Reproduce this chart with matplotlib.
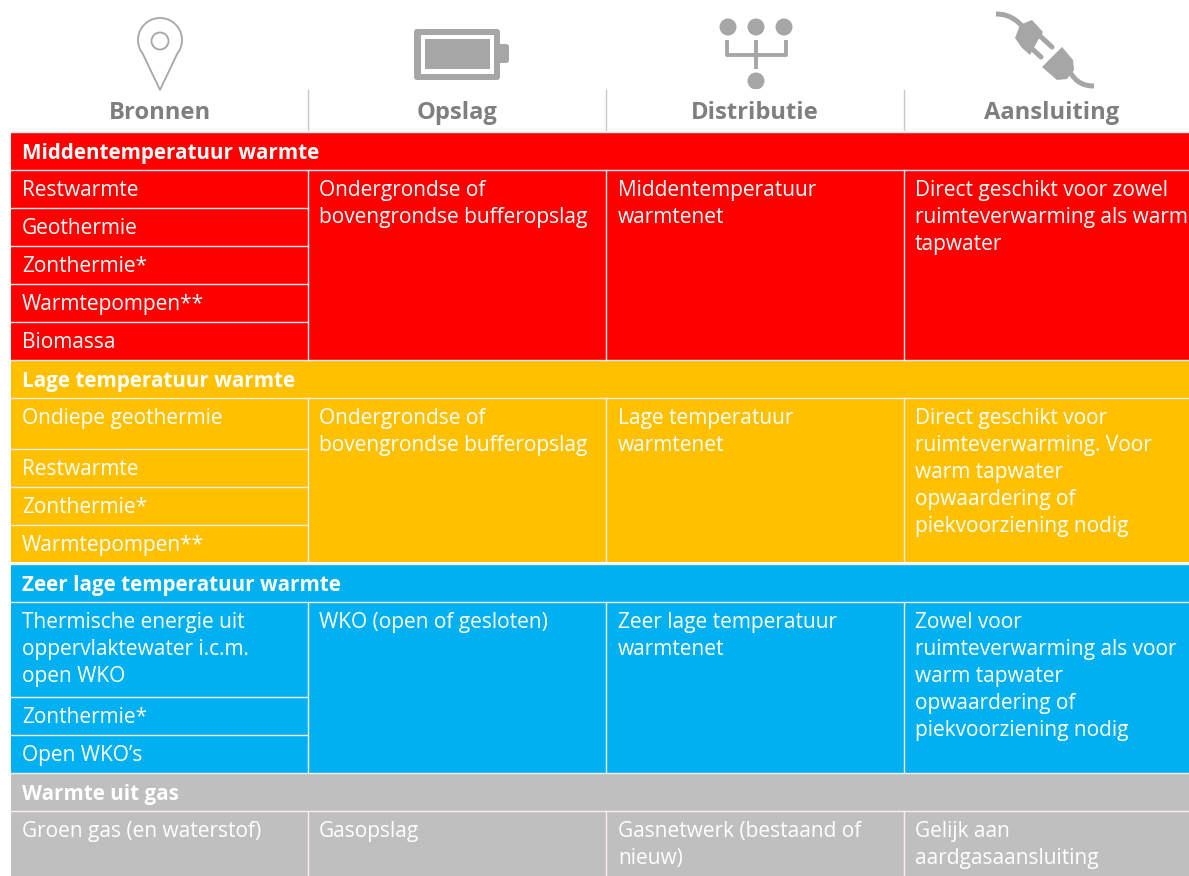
#!/usr/bin/env python3
# -*- coding: utf-8 -*-
"""Warmte table: sources, storage, distribution and connection per temperature level."""

import numpy as np
import matplotlib
matplotlib.use("Agg")
import matplotlib.pyplot as plt
from matplotlib.patches import Circle, Ellipse, FancyBboxPatch, PathPatch, Polygon, Rectangle
from matplotlib.path import Path

W, H = 1189, 876
FONT = ["Open Sans", "DejaVu Sans"]

columns = ["Bronnen", "Opslag", "Distributie", "Aansluiting"]
column_centers = [160, 457, 755, 1052]
column_edges = [11, 308, 606, 904, 1189]

section_names = ["Middentemperatuur warmte", "Lage temperatuur warmte",
                 "Zeer lage temperatuur warmte", "Warmte uit gas"]
section_colors = ["#ff0000", "#ffc000", "#00b0f0", "#bfbfbf"]
section_tops = [132, 360, 564, 773]
section_bottoms = [360, 562, 773, 876]

sources = [
    ["Restwarmte", "Geothermie", "Zonthermie*", "Warmtepompen**", "Biomassa"],
    ["Ondiepe geothermie", "Restwarmte", "Zonthermie*", "Warmtepompen**"],
    ["Thermische energie uit\noppervlaktewater i.c.m.\nopen WKO", "Zonthermie*", "Open WKO\u2019s"],
    ["Groen gas (en waterstof)"],
]
source_row_bottoms = [
    [208, 246, 284, 322, 360],
    [449, 487, 525, 562],
    [697, 735, 773],
    [876],
]
storage = ["Ondergrondse of\nbovengrondse bufferopslag",
           "Ondergrondse of\nbovengrondse bufferopslag",
           "WKO (open of gesloten)",
           "Gasopslag"]
distribution = ["Middentemperatuur\nwarmtenet",
                "Lage temperatuur\nwarmtenet",
                "Zeer lage temperatuur\nwarmtenet",
                "Gasnetwerk (bestaand of\nnieuw)"]
connection = ["Direct geschikt voor zowel\nruimteverwarming als warm\ntapwater",
              "Direct geschikt voor\nruimteverwarming. Voor\nwarm tapwater\nopwaardering of\npiekvoorziening nodig",
              "Zowel voor\nruimteverwarming als voor\nwarm tapwater\nopwaardering of\npiekvoorziening nodig",
              "Gelijk aan\naardgasaansluiting"]

HEAD_H = 38
GREY = "#a6a6a6"
TEXT_GREY = "#7f7f7f"
LINE = "#f8eeee"


def cell_text(ax, x, y, s, color="white", size=15, weight="normal"):
    ax.text(x, y, s, color=color, fontsize=size, fontweight=weight, family=FONT,
            ha="left", va="top", linespacing=1.37)


def draw_icons(ax):
    # map pin
    t = np.linspace(np.radians(-38), np.radians(218), 60)
    pts = [(160 + 22 * np.cos(a), 40 - 22 * np.sin(a)) for a in t]
    pts = [(160, 90)] + pts
    ax.add_patch(Polygon(pts, closed=True, fc="none", ec=GREY, lw=1.3))
    ax.add_patch(Circle((160, 41), 8.5, fc="none", ec=GREY, lw=1.3))

    # battery
    ax.add_patch(FancyBboxPatch((414, 29), 86, 51, boxstyle="round,pad=0,rounding_size=3",
                                fc=GREY, ec="none"))
    ax.add_patch(Rectangle((421, 35), 73, 39, fc="white", ec="none"))
    ax.add_patch(Rectangle((425, 39), 65, 30, fc=GREY, ec="none"))
    ax.add_patch(FancyBboxPatch((498, 44), 11, 19, boxstyle="round,pad=0,rounding_size=3",
                                fc=GREY, ec="none"))

    # distribution tree
    for cx in [728, 756, 784]:
        ax.add_patch(Ellipse((cx, 27), 17, 17, fc=GREY, ec="none"))
    ax.add_patch(Ellipse((756, 81), 17, 17, fc=GREY, ec="none"))
    ax.add_patch(Rectangle((740, 89), 32, 3, fc="white", ec="none"))
    ax.plot([727, 727, 786, 786], [40, 55, 55, 40], color=GREY, lw=2.8, solid_capstyle="butt")
    ax.plot([756, 756], [40, 69], color=GREY, lw=2.8, solid_capstyle="butt")

    # plug and socket
    cord_top = Path([(996, 14), (1008, 14), (1016, 19), (1024, 28)],
                    [Path.MOVETO, Path.CURVE4, Path.CURVE4, Path.CURVE4])
    cord_bottom = Path([(1070, 72), (1076, 82), (1083, 86), (1094, 86)],
                       [Path.MOVETO, Path.CURVE4, Path.CURVE4, Path.CURVE4])
    ax.add_patch(PathPatch(cord_top, fc="none", ec=GREY, lw=3.6, capstyle="butt"))
    ax.add_patch(PathPatch(cord_bottom, fc="none", ec=GREY, lw=3.6, capstyle="butt"))
    ax.add_patch(Polygon([(1015, 38), (1020, 25), (1032, 20), (1043, 32), (1037, 42), (1030, 55), (1022, 48)],
                         fc=GREY, ec="none"))
    ax.plot([1040, 1052], [36, 47], color=GREY, lw=3.6, solid_capstyle="round")
    ax.plot([1030, 1041], [47, 57], color=GREY, lw=3.6, solid_capstyle="round")
    ax.add_patch(Polygon([(1062, 47), (1073, 60), (1074, 70), (1067, 79), (1057, 80), (1042, 67)],
                         fc=GREY, ec="none"))


def main():
    fig = plt.figure(figsize=(W / 100, H / 100), dpi=100)
    ax = fig.add_axes([0, 0, 1, 1])
    ax.set_xlim(0, W)
    ax.set_ylim(H, 0)
    ax.axis("off")

    draw_icons(ax)

    for name, cx in zip(columns, column_centers):
        ax.text(cx, 113, name, color=TEXT_GREY, fontsize=17.1, fontweight="bold", family=FONT,
                ha="center", va="center")
    for x in column_edges[1:4]:
        ax.plot([x, x], [90, 130], color="#c8c8c8", lw=1.0)

    for i, name in enumerate(section_names):
        top, bottom = section_tops[i], section_bottoms[i]
        color = section_colors[i]
        ax.add_patch(Rectangle((11, top), W - 11, bottom - top, fc=color, ec="none"))
        cell_text(ax, 22, top + 11, name, size=14.9, weight="bold")

        body = top + HEAD_H
        ax.plot([11, W], [body, body], color=LINE, lw=1.0)
        ax.plot([11, W], [top, top], color=LINE, lw=1.0)
        for x in column_edges[1:4]:
            ax.plot([x, x], [body, bottom], color=LINE, lw=1.0)

        row_top = body
        for label, row_bottom in zip(sources[i], source_row_bottoms[i]):
            cell_text(ax, 22, row_top + 10, label)
            if row_bottom != bottom:
                ax.plot([11, 308], [row_bottom, row_bottom], color=LINE, lw=1.0)
            row_top = row_bottom

        cell_text(ax, 319, body + 10, storage[i])
        cell_text(ax, 618, body + 10, distribution[i])
        cell_text(ax, 915, body + 10, connection[i])

    ax.set_xlim(0, W)
    ax.set_ylim(H, 0)
    fig.savefig("out.png", dpi=100, facecolor="white")


if __name__ == "__main__":
    main()
